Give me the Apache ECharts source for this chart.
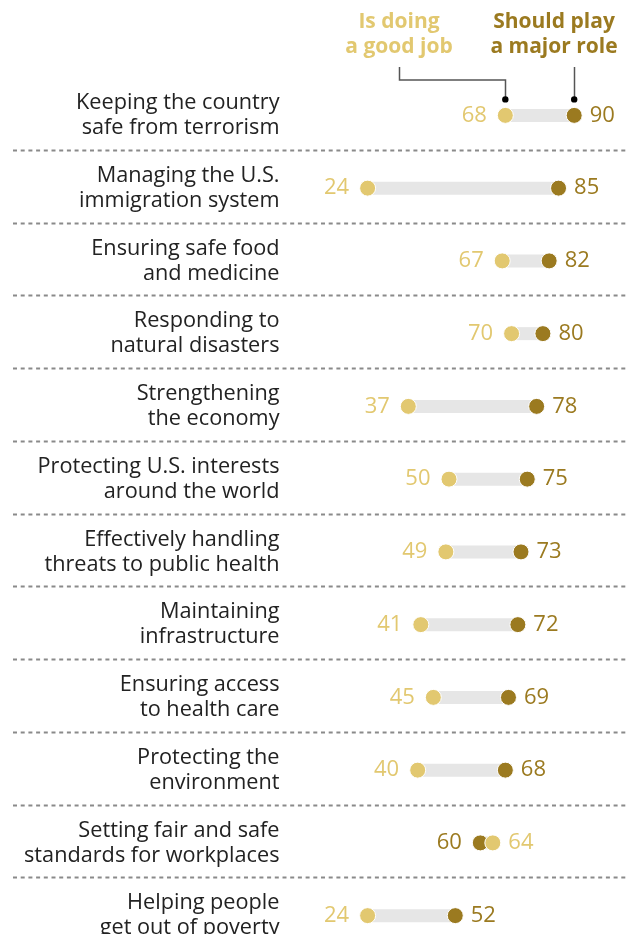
<!DOCTYPE html>
<html>
<head>
<meta charset="utf-8">
<script src="https://cdn.jsdelivr.net/npm/echarts@6/dist/echarts.min.js"></script>
<style>
  html, body { margin: 0; padding: 0; overflow: hidden; background: #fff; }
  #chart { width: 629px; height: 960px; }
</style>
</head>
<body>
<div id="chart"></div>
<script>
// Share saying the federal government ... (percent)
const categories = [
  'Keeping the country\nsafe from terrorism',
  'Managing the U.S.\nimmigration system',
  'Ensuring safe food\nand medicine',
  'Responding to\nnatural disasters',
  'Strengthening\nthe economy',
  'Protecting U.S. interests\naround the world',
  'Effectively handling\nthreats to public health',
  'Maintaining\ninfrastructure',
  'Ensuring access\nto health care',
  'Protecting the\nenvironment',
  'Setting fair and safe\nstandards for workplaces',
  'Helping people\nget out of poverty'
];
const goodJob   = [68, 24, 67, 70, 37, 50, 49, 41, 45, 40, 64, 24];
const majorRole = [90, 85, 82, 80, 78, 75, 73, 72, 69, 68, 60, 52];
const legendGood  = 'Is doing\na good job';
const legendMajor = 'Should play\na major role';

const LIGHT = '#e2c870';
const DARK  = '#9b7a20';
const BAR   = '#e6e6e6';
const FONT  = '"Open Sans", "Noto Sans", sans-serif';

const chart = echarts.init(document.getElementById('chart'), null, { renderer: 'canvas' });

// one dot per row; its value label sits on the outer side of the pair
function dotSeries(name, values, other, color, outerIsRight) {
  return {
    name: name,
    type: 'scatter',
    symbol: 'circle',
    symbolSize: 16,
    z: 3,
    itemStyle: { color: color, borderColor: '#fff', borderWidth: 1, opacity: 1 },
    data: values.map((v, i) => {
      const right = outerIsRight ? v >= other[i] : v > other[i];
      return {
        value: [v, i],
        label: {
          show: true,
          position: right ? 'right' : 'left',
          distance: right ? 7 : 10,
          formatter: String(v),
          color: color,
          fontFamily: FONT,
          fontSize: 22
        }
      };
    }),
    emphasis: { disabled: true }
  };
}

const option = {
  animation: false,
  grid: { left: 292.5, right: 23.5, top: 79, height: 873 },
  xAxis: { type: 'value', min: 0, max: 100, show: false },
  yAxis: {
    type: 'category',
    data: categories,
    inverse: true,
    axisLine: { show: false },
    axisTick: { show: false },
    splitLine: { show: false },
    axisLabel: {
      margin: 13,
      align: 'right',
      color: '#222',
      fontFamily: FONT,
      fontSize: 21.7,
      lineHeight: 25,
      padding: [0, 0, 3, 0]
    }
  },
  series: [
    {
      // dotted row separators
      type: 'custom',
      z: 1,
      silent: true,
      data: categories.map((c, i) => [0, i]),
      renderItem: function (params, api) {
        const i = api.value(1);
        if (i >= categories.length - 1) return null;
        const p = api.coord([0, i]);
        const band = api.size([0, 1])[1];
        const y = Math.round(p[1] + band / 2 - 2) + 0.5;
        return {
          type: 'line',
          shape: { x1: 13, y1: y, x2: api.getWidth(), y2: y },
          style: { stroke: '#8a8a8a', lineWidth: 2, lineDash: [4, 3.7] }
        };
      }
    },
    {
      // gray connector between the two dots
      type: 'custom',
      z: 2,
      silent: true,
      data: goodJob.map((g, i) => [g, majorRole[i], i]),
      renderItem: function (params, api) {
        const a = api.coord([api.value(0), api.value(2)]);
        const b = api.coord([api.value(1), api.value(2)]);
        const h = 13;
        const x1 = Math.min(a[0], b[0]), x2 = Math.max(a[0], b[0]);
        return {
          type: 'rect',
          shape: { x: x1, y: a[1] - h / 2, width: x2 - x1, height: h },
          style: { fill: BAR }
        };
      }
    },
    dotSeries('Should play a major role', majorRole, goodJob, DARK, true),
    dotSeries('Is doing a good job', goodJob, majorRole, LIGHT, false)
  ]
};
chart.setOption(option);

// Legend headings with leader lines to the first row's dots
const pGood  = chart.convertToPixel({ gridIndex: 0 }, [goodJob[0], 0]);
const pMajor = chart.convertToPixel({ gridIndex: 0 }, [majorRole[0], 0]);
const lineTop = 67, elbowY = 80, tipY = pGood[1] - 16;
const goodX = 399;
const gx = Math.round(pGood[0]) + 0.5, mx = Math.round(pMajor[0]) + 0.5;
chart.setOption({
  graphic: [
    {
      type: 'text', x: goodX, y: 10,
      style: { text: legendGood, fill: LIGHT, font: 'bold 21px ' + FONT, lineHeight: 25, align: 'center' }
    },
    {
      type: 'text', x: 554, y: 10,
      style: { text: legendMajor, fill: DARK, font: 'bold 21px ' + FONT, lineHeight: 25, align: 'center' }
    },
    {
      type: 'polyline',
      shape: { points: [[goodX + 0.5, lineTop], [goodX + 0.5, elbowY], [gx, elbowY], [gx, tipY]] },
      style: { stroke: '#555', lineWidth: 1.5, fill: null }
    },
    {
      type: 'polyline',
      shape: { points: [[mx, lineTop], [mx, tipY]] },
      style: { stroke: '#555', lineWidth: 1.5, fill: null }
    },
    { type: 'circle', shape: { cx: pGood[0], cy: tipY, r: 3.2 }, style: { fill: '#000' } },
    { type: 'circle', shape: { cx: pMajor[0], cy: tipY, r: 3.2 }, style: { fill: '#000' } }
  ]
});
</script>
</body>
</html>
